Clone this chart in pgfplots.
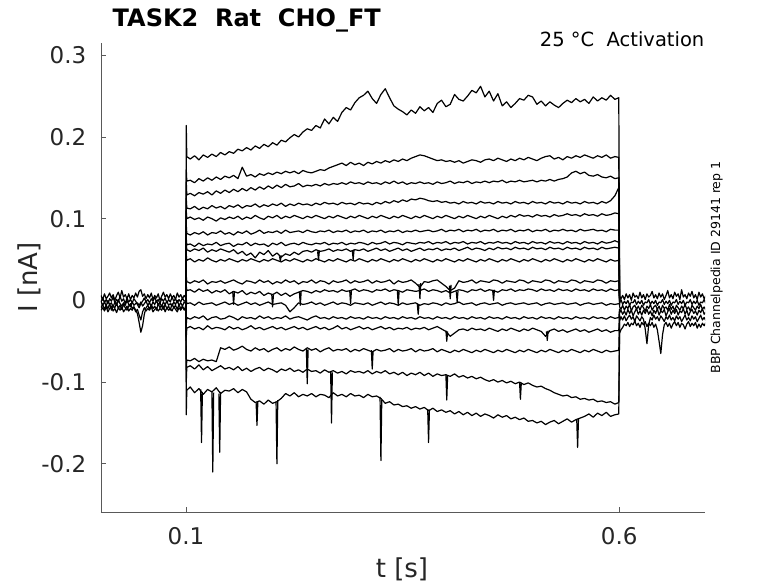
\documentclass[border=0pt]{standalone}
\usepackage{fontspec}
\setmainfont{DejaVu Sans}
\usepackage{pgfplots}
\usepackage{pgfplotstable}
\pgfplotsset{compat=1.18}
\definecolor{txt}{HTML}{262626}
\pgfplotscreateplotcyclelist{mono}{black,solid,line width=1.2pt,line join=round,mark=none\\}

% time in ms, current in pA
\pgfplotstableread{
x t1 t2 t3 t4 t5 t6 t7 t8 t9 t10 t11 t12 t13 t14 t15 t16 t17
100 2 -1 3 0 -2 1 -3 2 0 -1 1 -2 0 3 -1 2 -2
100.4 214 160 145 125 110 92 76 70 56 30 18 2 -30 -45 -85 -100 -140
101 176 146 129 113 100 82 68 62 49 23 12 -4 -21 -34 -73 -82 -110
105 173 147 131 112 102 80 69 60 51 21 13 -3 -23 -32 -74 -80 -106
110 177 144 128 115 99 83 66 63 47 24 10 -6 -20 -35 -71 -84 -113
115 172 149 132 111 101 81 70 61 50 22 14 -2 -22 -33 -75 -79 -108
120 178 146 130 114 98 84 67 64 48 25 11 -5 -19 -36 -72 -85 -115
125 175 150 133 112 102 80 69 59 52 20 13 -4 -24 -31 -74 -81 -109
130 179 147 129 116 100 83 68 62 49 23 9 -3 -21 -35 -73 -86 -112
135 176 151 134 113 97 82 71 60 47 22 12 -6 -20 -33 -75 -83 -107
140 181 148 131 115 101 85 67 63 50 24 10 -4 -23 -34 -58 -80 -114
145 178 152 135 112 99 81 69 61 48 21 13 -2 -22 -36 -60 -84 -110
150 182 150 132 116 102 83 70 59 51 23 8 -5 -19 -32 -57 -82 -111
155 180 153 136 114 100 80 66 62 49 25 11 -3 -21 -35 -61 -85 -108
160 185 149 133 117 103 84 69 57 47 22 9 -6 -24 -33 -59 -81 -113
165 183 163 137 113 99 82 68 60 50 20 12 -4 -20 -36 -56 -86 -109
170 187 152 134 116 102 85 71 55 48 24 7 -2 -22 -34 -60 -83 -112
175 184 154 138 115 100 81 67 58 51 23 10 -5 -21 -31 -62 -87 -121
180 189 151 135 118 104 83 70 52 49 21 8 -3 -23 -35 -58 -84 -125
185 186 155 139 114 101 86 68 59 47 25 11 -6 -19 -33 -61 -82 -123
190 191 153 136 117 99 82 69 56 50 22 6 -4 -22 -36 -59 -86 -127
195 188 156 140 115 103 84 66 61 48 24 9 -2 -20 -34 -63 -83 -122
200 193 154 137 118 101 83 70 54 51 20 7 -5 -23 -32 -60 -85 -126
205 190 157 141 116 104 85 68 58 49 23 10 -4 -21 -35 -58 -88 -124
210 196 155 138 119 100 82 71 53 47 21 6 -3 -22 -33 -62 -84 -120
215 194 158 142 115 103 86 67 57 50 25 9 -6 -19 -36 -59 -86 -114
220 199 156 139 118 101 83 69 55 48 22 5 -14 -23 -34 -61 -83 -117
225 203 158 140 116 104 84 70 59 51 24 8 -9 -21 -32 -57 -87 -113
230 200 155 143 119 102 85 68 56 49 20 10 -3 -20 -35 -60 -85 -118
235 206 159 139 117 100 83 71 60 47 23 12 -5 -22 -33 -62 -88 -115
240 210 157 141 118 103 86 69 61 50 22 11 -4 -24 -36 -58 -84 -117
245 208 156 140 116 101 84 68 59 48 25 9 -2 -21 -34 -61 -87 -114
250 214 158 142 119 104 83 70 62 51 21 12 -5 -19 -32 -59 -86 -118
255 211 160 140 117 102 85 69 60 49 24 10 -3 -22 -35 -63 -89 -115
260 222 159 143 120 100 84 71 61 47 23 13 -6 -21 -33 -60 -85 -116
265 216 162 141 118 103 86 68 63 50 20 11 -4 -23 -36 -58 -88 -119
270 224 164 143 119 101 83 70 60 48 24 12 -2 -20 -34 -62 -86 -113
275 219 166 142 117 104 85 69 62 51 22 10 -5 -22 -31 -60 -89 -117
280 230 168 144 120 102 84 71 61 49 23 13 -3 -21 -35 -61 -87 -115
285 236 165 142 118 100 86 68 63 47 25 11 -4 -23 -33 -59 -90 -118
290 233 169 145 119 103 83 70 60 50 21 12 -6 -20 -36 -63 -86 -114
295 242 166 143 117 101 85 69 62 48 24 14 -3 -22 -34 -60 -88 -117
300 248 168 144 120 104 84 71 61 51 22 11 -4 -21 -32 -62 -87 -116
305 251 165 142 118 102 86 70 63 49 23 13 -5 -23 -35 -59 -89 -119
310 256 169 145 119 100 83 68 60 47 25 12 -3 -20 -33 -61 -86 -115
315 247 167 143 117 103 85 71 62 50 21 10 -6 -22 -36 -63 -90 -118
320 241 170 144 120 101 84 69 64 48 24 13 -4 -21 -34 -60 -87 -117
325 252 168 142 118 104 86 70 61 51 22 12 -2 -23 -32 -62 -89 -120
330 259 171 145 121 102 83 72 63 49 23 14 -5 -20 -35 -61 -86 -126
335 248 169 143 119 100 85 69 60 47 25 11 -3 -22 -33 -59 -90 -124
340 238 172 146 122 103 84 71 62 50 20 13 -4 -21 -36 -63 -88 -128
345 234 170 143 120 101 86 70 64 48 24 12 -6 -23 -34 -60 -91 -127
350 231 173 145 123 104 83 68 61 51 22 10 -3 -20 -35 -62 -88 -130
355 227 171 142 121 102 85 71 63 49 23 13 -5 -22 -33 -61 -92 -129
360 233 174 144 124 100 84 70 60 47 25 12 -4 -21 -36 -59 -89 -132
365 229 176 143 123 103 86 69 62 50 21 11 -3 -23 -34 -63 -91 -130
370 237 178 145 125 101 84 71 64 48 16 12 -6 -20 -35 -60 -88 -133
375 232 177 143 124 104 85 70 61 51 23 14 -4 -22 -33 -62 -92 -131
380 236 175 144 122 102 86 72 63 49 22 11 -5 -21 -36 -61 -89 -135
385 230 173 142 121 100 84 69 62 47 24 13 -3 -23 -34 -59 -93 -132
390 241 171 145 122 103 85 71 64 50 25 12 -4 -20 -32 -63 -90 -136
395 245 172 143 120 101 87 70 61 48 21 10 -6 -22 -35 -60 -92 -134
400 237 170 144 121 104 84 72 63 51 17 12 -3 -21 -38 -62 -91 -137
405 240 171 146 119 102 86 69 62 49 12 9 -5 -23 -44 -64 -93 -135
410 252 169 143 120 100 85 71 64 47 15 11 -4 -20 -40 -61 -90 -139
415 246 171 145 118 103 87 70 61 50 24 13 -2 -22 -36 -63 -94 -136
420 244 168 144 121 101 84 72 63 48 22 12 -5 -21 -35 -60 -92 -140
425 250 170 146 119 104 86 69 65 51 23 10 -4 -23 -37 -62 -95 -137
430 257 172 143 120 102 85 71 62 49 25 13 -3 -20 -34 -64 -93 -141
435 254 171 145 118 100 87 70 64 47 21 12 -6 -22 -36 -61 -96 -138
440 262 169 144 121 103 84 72 63 50 24 14 -4 -21 -35 -63 -94 -142
445 249 172 146 119 101 86 69 61 48 23 11 -3 -23 -37 -60 -97 -139
450 256 173 144 120 104 85 71 64 51 22 13 -5 -20 -34 -62 -99 -141
455 244 171 146 118 102 87 70 62 49 25 12 -4 -22 -36 -64 -97 -144
460 253 174 145 121 100 84 72 65 47 24 10 -3 -21 -38 -61 -100 -140
465 238 172 147 119 103 86 70 63 50 21 13 -6 -23 -35 -63 -98 -143
470 243 170 144 120 101 85 71 64 48 24 12 -4 -20 -37 -60 -101 -141
475 236 173 146 118 104 87 69 62 51 23 14 -3 -22 -34 -62 -99 -145
480 241 171 145 121 102 84 72 65 49 22 11 -5 -21 -36 -64 -102 -143
485 247 174 147 119 105 86 70 63 47 25 13 -4 -23 -38 -61 -100 -146
490 245 172 145 120 103 85 71 64 50 24 12 -3 -20 -35 -63 -103 -144
495 251 175 146 118 104 87 69 62 48 21 14 -5 -22 -37 -60 -101 -148
500 249 173 147 121 102 84 72 65 51 24 13 -4 -21 -34 -62 -104 -147
505 240 171 145 119 105 86 70 63 49 23 11 -3 -23 -36 -64 -106 -150
510 244 174 147 120 103 85 71 64 47 22 14 -6 -20 -38 -61 -105 -148
515 238 176 146 118 104 87 69 62 50 25 12 -4 -22 -44 -63 -108 -152
520 243 177 148 121 102 84 72 65 48 24 13 -3 -21 -37 -60 -110 -149
525 239 173 146 119 105 86 70 63 51 21 11 -5 -23 -35 -62 -113 -147
530 236 175 148 120 103 85 71 64 49 24 14 -4 -20 -38 -64 -115 -151
535 241 172 149 118 104 87 69 62 47 23 12 -3 -22 -36 -61 -117 -148
540 245 176 151 121 106 85 72 65 50 22 13 -5 -21 -39 -63 -116 -145
545 242 174 156 119 104 86 70 63 48 25 11 -4 -23 -37 -60 -119 -149
550 247 177 158 120 105 84 71 64 51 24 14 -3 -20 -35 -62 -118 -146
555 243 175 155 118 103 87 69 62 49 21 12 -6 -22 -38 -64 -121 -144
560 246 178 157 121 106 85 72 65 47 24 13 -4 -21 -36 -61 -120 -142
565 241 176 153 119 104 86 70 63 50 23 11 -3 -23 -39 -63 -122 -139
570 249 174 152 120 105 87 71 64 48 22 14 -5 -20 -37 -60 -121 -143
575 244 177 154 118 103 85 69 62 51 25 12 -4 -22 -35 -62 -124 -138
580 248 175 151 121 106 86 72 65 49 24 13 -3 -21 -38 -64 -123 -141
585 245 178 150 119 104 84 70 63 47 21 11 -6 -23 -36 -61 -125 -137
590 251 174 152 122 105 87 71 64 50 24 14 -4 -20 -39 -63 -124 -142
595 246 176 149 128 107 86 73 65 48 23 12 -5 -22 -37 -62 -127 -140
599.5 248 175 150 138 106 86 71 64 49 24 13 -4 -21 -37 -61 -125 -139
600.5 5 3 1 -2 0 -4 2 -6 -3 -8 1 -5 -10 -12 -18 -25 -30
}\pulse

\pgfplotstableread{
x b1 b2 b3 b4 b5
2 6 -2 -1 -9 -12
4 1 3 -6 -5 -9
6 8 -3 -2 -11 -13
8 2 1 -7 -6 -8
10 5 -4 0 -10 -14
12 9 2 -5 -4 -10
14 3 -1 -3 -12 -7
16 7 4 -8 -7 -13
18 0 -3 -2 -9 -10
20 6 1 -6 -3 -15
22 10 -2 1 -10 -9
24 3 5 -4 -6 -12
26 12 -1 -7 -11 -8
28 4 2 -3 -5 -14
30 7 -4 -6 -9 -11
32 2 3 0 -12 -7
34 8 -2 -5 -7 -13
36 1 1 -8 -4 -10
38 6 -3 -2 -10 -12
40 3 2 -6 -8 -8
42 9 -1 -4 -12 -14
44 4 -5 -3 -16 -11
46 11 -9 -6 -27 -18
48 13 -4 -2 -39 -24
50 5 -1 -7 -31 -14
52 8 3 -4 -17 -9
54 2 -2 -1 -9 -13
56 7 1 -6 -6 -10
58 3 -3 -3 -11 -12
60 9 2 -7 -5 -8
62 1 -1 -2 -10 -14
64 6 4 -5 -7 -11
66 3 -2 0 -12 -9
68 8 1 -6 -4 -13
70 0 -4 -3 -9 -10
72 5 2 -8 -6 -12
74 10 -1 -2 -11 -7
76 4 3 -5 -5 -14
78 7 -3 -1 -10 -9
80 2 1 -6 -7 -12
82 8 -2 -4 -12 -10
84 3 4 -7 -4 -13
86 6 -1 -2 -9 -8
88 1 2 -5 -6 -11
90 9 -3 0 -11 -14
92 4 1 -6 -5 -9
94 7 -2 -3 -10 -12
96 2 3 -7 -7 -8
98 6 -1 -2 -12 -11
100 3 0 -4 -6 -9
}\pre

\pgfplotstableread{
x p1 p2 p3 p4 p5 p6
600.5 5 -3 -8 -15 -25 -40
602 2 1 -11 -12 -20 -36
604 6 -5 -6 -17 -24 -33
606 1 -1 -12 -13 -19 -29
608 8 -4 -7 -18 -25 -31
610 3 0 -10 -11 -21 -27
612 7 -6 -5 -16 -18 -32
614 0 -2 -13 -12 -23 -28
616 9 -3 -8 -19 -20 -30
618 4 1 -6 -14 -26 -25
620 6 -5 -11 -10 -19 -31
622 2 -1 -7 -17 -22 -28
624 10 -4 -12 -13 -25 -33
626 3 0 -6 -18 -20 -27
628 7 -6 -9 -12 -23 -30
630 1 -2 -13 -16 -35 -26
632 8 -3 -7 -11 -53 -32
634 4 1 -10 -17 -30 -28
636 6 -5 -5 -13 -21 -31
638 11 -1 -12 -19 -24 -27
640 3 -4 -8 -12 -18 -33
642 7 0 -6 -16 -23 -29
644 2 -6 -11 -10 -20 -36
646 9 -2 -7 -18 -25 -50
648 4 -3 -13 -13 -19 -65
650 8 1 -6 -15 -22 -42
652 1 -5 -10 -11 -26 -30
654 6 -1 -8 -19 -20 -27
656 12 -4 -12 -14 -23 -32
658 3 0 -5 -10 -18 -28
660 7 -6 -11 -17 -24 -34
662 2 -2 -7 -12 -21 -29
664 10 -3 -13 -16 -25 -26
666 5 1 -6 -11 -19 -31
668 8 -5 -9 -18 -23 -27
670 1 -1 -12 -13 -20 -33
672 13 -4 -7 -15 -26 -28
674 4 0 -10 -10 -22 -30
676 7 -6 -5 -17 -18 -35
678 2 -2 -11 -12 -24 -29
680 9 -3 -8 -19 -21 -26
682 5 1 -13 -14 -25 -32
684 11 -5 -6 -11 -19 -28
686 3 -1 -9 -16 -23 -31
688 7 -4 -12 -13 -20 -27
690 1 0 -7 -18 -26 -34
692 10 -6 -10 -12 -22 -29
694 4 -2 -5 -15 -18 -33
696 8 -3 -11 -10 -24 -28
698 2 1 -8 -17 -21 -31
700 6 -4 -12 -14 -25 -27
}\post

\begin{document}
\begin{tikzpicture}
\path[use as bounding box] (-101pt,-71pt) rectangle (677pt,512pt);
\begin{axis}[
  scale only axis, width=604pt, height=469pt,
  xmin=2, xmax=699, ymin=-259, ymax=315,
  axis x line*=bottom, axis y line*=left,
  axis line style={black!65, line width=0.6pt},
  xtick={100,600}, xticklabels={0.1,0.6},
  ytick={-200,-100,0,100,200,300},
  yticklabels={-0.2,-0.1,0,0.1,0.2,0.3},
  tick align=inside, major tick length=5.5pt,
  tick style={black!65, line width=0.6pt},
  xticklabel style={anchor=north, inner sep=0pt, yshift=-15.5pt,
    font=\fontsize{23}{27}\selectfont, text=txt},
  yticklabel style={anchor=east, inner sep=0pt, xshift=-14.5pt,
    font=\fontsize{23}{27}\selectfont, text=txt},
  cycle list name=mono,
]
\pgfplotsinvokeforeach{1,...,17}{\addplot table[x=x,y=t#1]{\pulse};}
\pgfplotsinvokeforeach{1,...,5}{\addplot table[x=x,y=b#1]{\pre};}
\pgfplotsinvokeforeach{1,...,6}{\addplot table[x=x,y=p#1]{\post};}
% sharp spikes
\addplot coordinates {(117,-109) (118,-174) (119,-112)};
\addplot coordinates {(130,-112) (131,-210) (132,-113)};
\addplot coordinates {(138,-114) (139,-186) (140,-112)};
\addplot coordinates {(181,-125) (182,-153) (183,-124)};
\addplot coordinates {(204,-124) (205,-200) (206,-122)};
\addplot coordinates {(324,-118) (325,-196) (326,-122)};
\addplot coordinates {(379,-133) (380,-174) (381,-134)};
\addplot coordinates {(551,-146) (552,-180) (553,-145)};
\addplot coordinates {(267,-87) (268,-150) (269,-88)};
\addplot coordinates {(239,-59) (240,-102) (241,-60)};
\addplot coordinates {(314,-61) (315,-84) (316,-62)};
\addplot coordinates {(400,-91) (401,-122) (402,-92)};
\addplot coordinates {(485,-100) (486,-121) (487,-101)};
\addplot coordinates {(400,-37) (401,-50) (402,-38)};
\addplot coordinates {(516,-38) (517,-49) (518,-37)};
\addplot coordinates {(367,-4) (368,-17) (369,-5)};
\addplot coordinates {(369,20) (370,2) (371,21)};
\addplot coordinates {(404,18) (405,2) (406,19)};
\addplot coordinates {(154,11) (155,-5) (156,10)};
\addplot coordinates {(199,8) (200,-8) (201,7)};
\addplot coordinates {(231,10) (232,-6) (233,11)};
\addplot coordinates {(289,12) (290,-4) (291,12)};
\addplot coordinates {(344,12) (345,-6) (346,11)};
\addplot coordinates {(412,11) (413,-2) (414,12)};
\addplot coordinates {(454,12) (455,0) (456,13)};
\addplot coordinates {(208,54) (209,48) (210,55)};
\addplot coordinates {(252,60) (253,49) (254,61)};
\addplot coordinates {(292,61) (293,50) (294,62)};
\end{axis}
\node[anchor=base west, inner sep=0pt, font=\fontsize{24}{28}\selectfont\bfseries] at (11.5pt,485pt) {TASK2\ \ Rat\ \ CHO\_FT};
\node[anchor=base east, inner sep=0pt, font=\fontsize{19.5}{23}\selectfont] at (603.5pt,465pt) {25 °C\ \ Activation};
\node[rotate=90, anchor=base, inner sep=0pt, font=\fontsize{12.5}{15}\selectfont] at (619pt,244.5pt) {BBP Channelpedia ID 29141 rep 1};
\node[rotate=90, anchor=base, inner sep=0pt, font=\fontsize{26}{30}\selectfont, text=txt] at (-63pt,234.5pt) {I [nA]};
\node[anchor=base, inner sep=0pt, font=\fontsize{26}{30}\selectfont, text=txt] at (301pt,-65pt) {t [s]};
\end{tikzpicture}
\end{document}
